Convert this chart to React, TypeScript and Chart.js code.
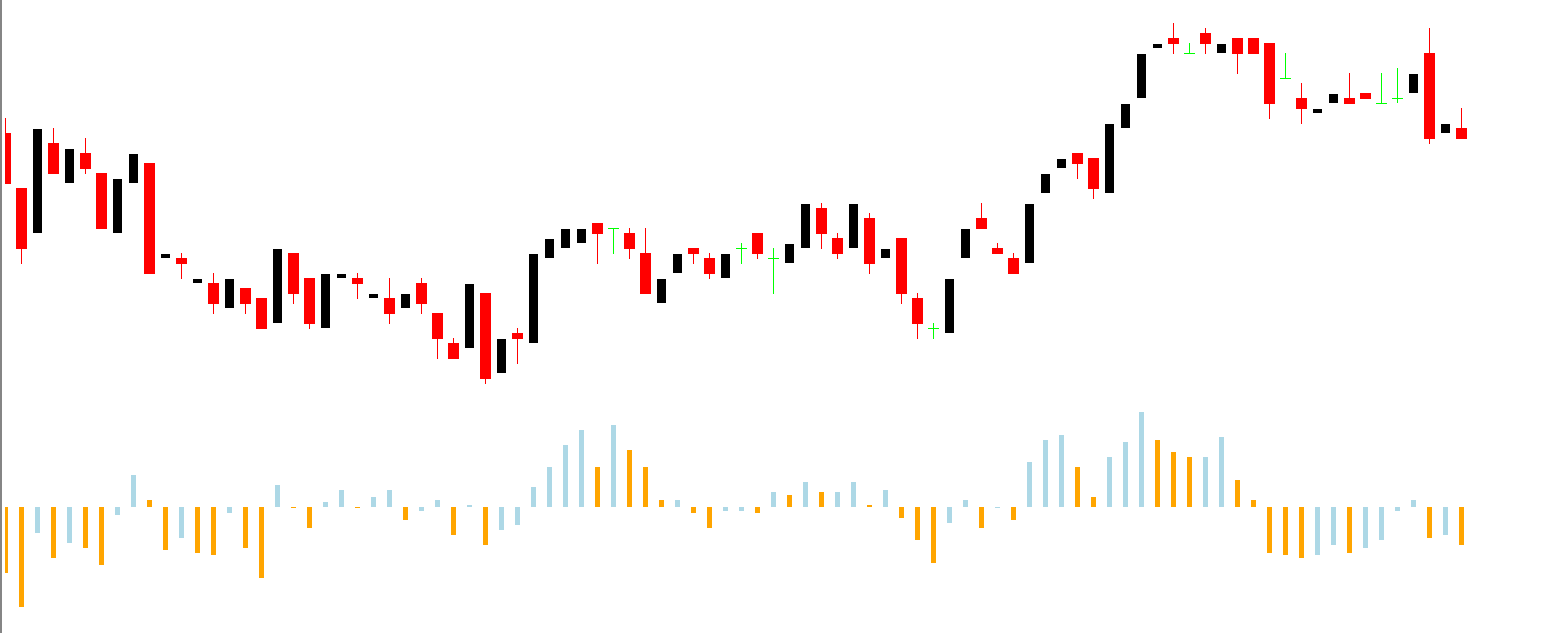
import React, { useEffect, useRef } from "react";
import { Chart, registerables } from "chart.js";

Chart.register(...registerables);

// OHLC values of the 92 candles (oldest first)
const opens = [
  1.0467, 1.0412, 1.0367, 1.0457, 1.0417, 1.0447, 1.0427, 1.0367, 1.0417, 1.0437,
  1.0342, 1.0342, 1.0317, 1.0317, 1.0292, 1.0312, 1.0302, 1.0277, 1.0347, 1.0322,
  1.0272, 1.0322, 1.0322, 1.0302, 1.0302, 1.0292, 1.0317, 1.0287, 1.0257, 1.0252,
  1.0307, 1.0227, 1.0267, 1.0257, 1.0342, 1.0352, 1.0357, 1.0377, 1.03715, 1.0367,
  1.0347, 1.0297, 1.0327, 1.0352, 1.0342, 1.0322, 1.03515, 1.0367, 1.03415, 1.0337,
  1.0352, 1.0392, 1.0362, 1.0352, 1.0382, 1.0342, 1.0362, 1.0302, 1.02715, 1.0267,
  1.0342, 1.0382, 1.0352, 1.0342, 1.0337, 1.0407, 1.0432, 1.0447, 1.0442, 1.0407,
  1.0472, 1.0502, 1.0552, 1.0562, 1.05465, 1.0567, 1.0547, 1.0562, 1.0562, 1.0557,
  1.05215, 1.0502, 1.0487, 1.0497, 1.0502, 1.0507, 1.04965, 1.05015, 1.0507, 1.0547,
  1.0467, 1.0472,
];
const highs = [
  1.0482, 1.0412, 1.0471, 1.0472, 1.0451, 1.0462, 1.0427, 1.0421, 1.0446, 1.0437,
  1.0346, 1.0347, 1.0321, 1.0327, 1.0321, 1.0312, 1.0302, 1.0351, 1.0347, 1.0322,
  1.0326, 1.0326, 1.0327, 1.0306, 1.0322, 1.0306, 1.0322, 1.0287, 1.0262, 1.0316,
  1.0307, 1.0261, 1.0272, 1.0346, 1.0361, 1.0371, 1.0371, 1.0377, 1.0372, 1.0372,
  1.0372, 1.0321, 1.0346, 1.0352, 1.0347, 1.0346, 1.0357, 1.0367, 1.0352, 1.0356,
  1.0396, 1.0397, 1.0367, 1.0396, 1.0387, 1.0351, 1.0362, 1.0307, 1.0277, 1.0321,
  1.0371, 1.0397, 1.0357, 1.0347, 1.0396, 1.0426, 1.0441, 1.0447, 1.0442, 1.0476,
  1.0496, 1.0546, 1.0556, 1.0577, 1.0557, 1.0572, 1.0556, 1.0562, 1.0562, 1.0557,
  1.0547, 1.0517, 1.0491, 1.0506, 1.0527, 1.0507, 1.0527, 1.0532, 1.0526, 1.0572,
  1.0476, 1.0492,
];
const lows = [
  1.0416, 1.0336, 1.0367, 1.0426, 1.0417, 1.0426, 1.0371, 1.0367, 1.0417, 1.0326,
  1.0342, 1.0321, 1.0317, 1.0286, 1.0292, 1.0286, 1.0271, 1.0277, 1.0296, 1.0271,
  1.0272, 1.0322, 1.0301, 1.0302, 1.0276, 1.0292, 1.0286, 1.0241, 1.0241, 1.0252,
  1.0216, 1.0227, 1.0236, 1.0257, 1.0342, 1.0352, 1.0357, 1.0336, 1.0346, 1.0341,
  1.0306, 1.0297, 1.0327, 1.0336, 1.0321, 1.0322, 1.0336, 1.0341, 1.0306, 1.0337,
  1.0352, 1.0351, 1.0341, 1.0352, 1.0326, 1.0342, 1.0296, 1.0261, 1.0261, 1.0267,
  1.0342, 1.0371, 1.0346, 1.0326, 1.0337, 1.0407, 1.0432, 1.0421, 1.0401, 1.0407,
  1.0472, 1.0502, 1.0552, 1.0546, 1.0546, 1.0546, 1.0547, 1.0526, 1.0546, 1.0481,
  1.0521, 1.0476, 1.0487, 1.0497, 1.0496, 1.0501, 1.0496, 1.0497, 1.0507, 1.0456,
  1.0467, 1.0461,
];
const closes = [
  1.0416, 1.0351, 1.0471, 1.0426, 1.0451, 1.0431, 1.0371, 1.0421, 1.0446, 1.0326,
  1.0346, 1.0336, 1.0321, 1.0296, 1.0321, 1.0296, 1.0271, 1.0351, 1.0306, 1.0276,
  1.0326, 1.0326, 1.0316, 1.0306, 1.0286, 1.0306, 1.0296, 1.0261, 1.0241, 1.0316,
  1.0221, 1.0261, 1.0261, 1.0346, 1.0361, 1.0371, 1.0371, 1.0366, 1.03715, 1.0351,
  1.0306, 1.0321, 1.0346, 1.0346, 1.0326, 1.0346, 1.03515, 1.0346, 1.03415, 1.0356,
  1.0396, 1.0366, 1.0346, 1.0396, 1.0336, 1.0351, 1.0306, 1.0276, 1.02715, 1.0321,
  1.0371, 1.0371, 1.0346, 1.0326, 1.0396, 1.0426, 1.0441, 1.0436, 1.0411, 1.0476,
  1.0496, 1.0546, 1.0556, 1.0556, 1.05465, 1.0556, 1.0556, 1.0546, 1.0546, 1.0496,
  1.05215, 1.0491, 1.0491, 1.0506, 1.0496, 1.0501, 1.04965, 1.05015, 1.0526, 1.0461,
  1.0476, 1.0461,
];

// Oscillator histogram values (same 92 bars)
const oscillator = [
  -66, -100, -26, -51, -36, -41, -58, -8, 32, 7,
  -43, -31, -46, -48, -6, -41, -71, 22, -1, -21,
  5, 17, -1, 10, 17, -13, -4, 7, -28, 2,
  -38, -23, -18, 20, 40, 62, 77, 40, 82, 57,
  40, 7, 7, -6, -21, -4, -4, -6, 15, 12,
  25, 15, 15, 25, 2, 17, -11, -33, -56, -16,
  7, -21, -1, -13, 45, 67, 72, 40, 10, 50,
  65, 95, 67, 55, 50, 50, 70, 27, 7, -46,
  -48, -51, -48, -38, -46, -41, -33, -4, 7, -31,
  -28, -38,
];

const BULL = "#000000";
const BEAR = "#ff0000";
const DOJI = "#00ff00";
const OSC_UP = "#add8e6";
const OSC_DOWN = "#ffa500";

const leftBorder = {
  id: "leftBorder",
  afterDraw(c: any) {
    const ctx = c.ctx;
    ctx.save();
    ctx.fillStyle = "#858585";
    ctx.fillRect(0, 0, 2, c.height);
    ctx.restore();
  },
};

export default function App() {
  const ref = useRef<HTMLCanvasElement>(null);

  useEffect(() => {
    if (!ref.current) return;
    const idx = opens.map((_, i) => i);
    const kind = idx.map((i) =>
      closes[i] > opens[i] ? "bull" : closes[i] < opens[i] ? "bear" : "doji"
    );
    const wickColors = kind.map((k) => (k === "bull" ? BULL : k === "bear" ? BEAR : DOJI));
    const oscColors = oscillator.map((v, i) =>
      i > 0 && v >= oscillator[i - 1] ? OSC_UP : OSC_DOWN
    );
    const barCommon = {
      grouped: false,
      inflateAmount: 0,
      borderWidth: 0,
      clip: 0,
    };

    const chart = new Chart(ref.current, {
      type: "bar",
      data: {
        datasets: [
          {
            ...barCommon,
            label: "wicks",
            yAxisID: "y",
            order: 3,
            barThickness: 1,
            backgroundColor: wickColors,
            data: idx.map((i) => ({ x: i, y: [lows[i], highs[i]] })),
          },
          {
            ...barCommon,
            label: "bear",
            yAxisID: "y",
            order: 2,
            barThickness: 11,
            backgroundColor: BEAR,
            data: idx
              .filter((i) => kind[i] === "bear")
              .map((i) => ({ x: i, y: [opens[i], closes[i]] })),
          },
          {
            ...barCommon,
            label: "bull",
            yAxisID: "y",
            order: 2,
            barThickness: 9,
            backgroundColor: BULL,
            data: idx
              .filter((i) => kind[i] === "bull")
              .map((i) => ({ x: i, y: [opens[i], closes[i]] })),
          },
          {
            type: "line",
            label: "doji",
            yAxisID: "y",
            order: 1,
            clip: 0,
            showLine: false,
            pointStyle: "line",
            pointRadius: 5.5,
            pointBorderWidth: 1,
            pointBorderColor: DOJI,
            pointBackgroundColor: DOJI,
            borderColor: DOJI,
            data: idx
              .filter((i) => kind[i] === "doji")
              .map((i) => ({ x: i, y: opens[i] })),
          } as any,
          {
            ...barCommon,
            label: "oscillator",
            yAxisID: "y2",
            order: 4,
            barThickness: 5,
            backgroundColor: oscColors,
            data: idx.map((i) => ({ x: i, y: oscillator[i] })),
          },
        ],
      } as any,
      options: {
        responsive: false,
        animation: false,
        events: [],
        layout: { autoPadding: false, padding: { left: 5, right: 0, top: 0, bottom: 0 } },
        plugins: {
          legend: { display: false },
          tooltip: { enabled: false },
          title: { display: false },
        },
        scales: {
          x: {
            type: "linear",
            min: -0.03125,
            max: 97.46875,
            offset: false,
            display: false,
          },
          y: {
            type: "linear",
            min: 0.9967,
            max: 1.06,
            beginAtZero: false,
            display: false,
          },
          y2: {
            type: "linear",
            min: -126,
            max: 507,
            beginAtZero: false,
            display: false,
          },
        },
      } as any,
      plugins: [leftBorder],
    });
    return () => chart.destroy();
  }, []);

  return (
    <div
      style={{
        position: "fixed",
        left: 0,
        top: 0,
        width: 1565,
        height: 633,
        background: "#ffffff",
      }}
    >
      <canvas ref={ref} width={1565} height={633} style={{ display: "block" }} />
    </div>
  );
}
